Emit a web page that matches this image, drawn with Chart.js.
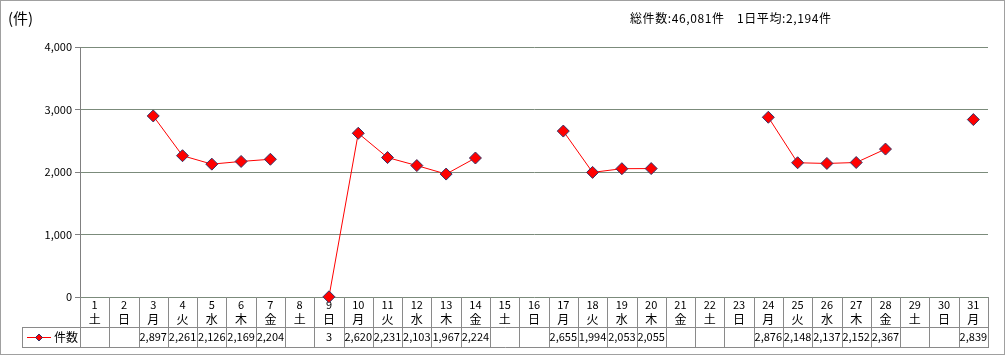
<!DOCTYPE html>
<html>
<head>
<meta charset="utf-8">
<script src="https://cdn.jsdelivr.net/npm/chart.js@4/dist/chart.umd.min.js"></script>
<style>
  html, body { margin: 0; padding: 0; background: #fff; }
</style>
</head>
<body>
<canvas id="chart" width="1005" height="355"></canvas>
<script>
// chart data
const days = ["1","2","3","4","5","6","7","8","9","10","11","12","13","14","15","16",
              "17","18","19","20","21","22","23","24","25","26","27","28","29","30","31"];
const weekdays = ["土","日","月","火","水","木","金","土","日","月","火","水","木","金","土","日",
                  "月","火","水","木","金","土","日","月","火","水","木","金","土","日","月"];
const counts = [null, null, 2897, 2261, 2126, 2169, 2204, null, 3, 2620, 2231, 2103, 1967, 2224, null, null,
                2655, 1994, 2053, 2055, null, null, null, 2876, 2148, 2137, 2152, 2367, null, null, 2839];
const seriesName = "件数";
const unitLabel = "(件)";
const totalText = "総件数:46,081件";
const avgText = "1日平均:2,194件";

const FONT = '"Noto Sans CJK JP", "Noto Sans", sans-serif';
const lineGray = "#8a8a8a";

function fmt(v) {
    return v.toLocaleString("en-US");
}

// draws the data table under the plot, using the x scale for the columns
const tablePlugin = {
    id: "table",
    beforeDatasetsDraw(chart) {
        const ctx = chart.ctx;
        const xs = chart.scales.x;
        const area = chart.chartArea;
        const colW = (area.right - area.left) / days.length;
        const top = area.bottom;
        const rowTop = top + 30;
        const rowBottom = top + 50;
        const legendLeft = 22;

        ctx.save();
        ctx.strokeStyle = lineGray;
        ctx.lineWidth = 1;
        ctx.beginPath();
        for (let i = 0; i <= days.length; i++) {
            const x = Math.round(area.left + i * colW) + 0.5;
            ctx.moveTo(x, top);
            ctx.lineTo(x, rowBottom);
        }
        ctx.moveTo(legendLeft + 0.5, rowTop);
        ctx.lineTo(legendLeft + 0.5, rowBottom);
        ctx.moveTo(legendLeft, rowTop + 0.5);
        ctx.lineTo(Math.round(area.right) + 1, rowTop + 0.5);
        ctx.moveTo(legendLeft, rowBottom + 0.5);
        ctx.lineTo(Math.round(area.right) + 1, rowBottom + 0.5);
        ctx.stroke();

        ctx.fillStyle = "#000";
        ctx.textAlign = "center";
        ctx.textBaseline = "middle";
        days.forEach((d, i) => {
            const x = xs.getPixelForValue(i);
            ctx.font = "11px " + FONT;
            ctx.fillText(d, x, top + 8);
            ctx.font = "12px " + FONT;
            ctx.fillText(weekdays[i], x, top + 22);
            if (counts[i] !== null) {
                ctx.font = "11px " + FONT;
                ctx.fillText(fmt(counts[i]), x, rowTop + 10);
            }
        });

        // legend key
        const ly = rowTop + 10.5;
        ctx.strokeStyle = "#ff0000";
        ctx.beginPath();
        ctx.moveTo(27, ly);
        ctx.lineTo(51, ly);
        ctx.stroke();
        ctx.fillStyle = "#ff0000";
        ctx.strokeStyle = "#333366";
        ctx.beginPath();
        ctx.moveTo(39, ly - 3.5);
        ctx.lineTo(42.5, ly);
        ctx.lineTo(39, ly + 3.5);
        ctx.lineTo(35.5, ly);
        ctx.closePath();
        ctx.fill();
        ctx.stroke();
        ctx.fillStyle = "#000";
        ctx.textAlign = "left";
        ctx.font = "12px " + FONT;
        ctx.fillText(seriesName, 54, rowTop + 10);
        ctx.restore();
    },
    afterDraw(chart) {
        const ctx = chart.ctx;
        ctx.save();
        ctx.fillStyle = "#000";
        ctx.textBaseline = "middle";
        ctx.textAlign = "left";
        ctx.font = "15px " + FONT;
        ctx.fillText(unitLabel, 8, 18);
        ctx.font = "12px " + FONT;
        ctx.letterSpacing = "0.6px";
        ctx.fillText(totalText, 630, 18);
        ctx.fillText(avgText, 737, 18);
        ctx.letterSpacing = "0px";
        ctx.strokeStyle = "#a0a0a0";
        ctx.lineWidth = 1;
        ctx.strokeRect(0.5, 0.5, chart.width - 1, chart.height - 1);
        ctx.restore();
    }
};

const ctx = document.getElementById("chart").getContext("2d");
new Chart(ctx, {
    type: "line",
    data: {
        labels: days,
        datasets: [{
            label: seriesName,
            data: counts,
            borderColor: "#ff0000",
            borderWidth: 1,
            backgroundColor: "#ff0000",
            pointStyle: "rectRot",
            pointRadius: 6,
            pointBorderColor: "#333366",
            pointBorderWidth: 1,
            pointBackgroundColor: "#ff0000",
            spanGaps: false,
            tension: 0,
            clip: false,
        }],
    },
    options: {
        responsive: false,
        animation: false,
        layout: {
            padding: { left: 0, right: 17, top: 47, bottom: 58 },
        },
        scales: {
            x: {
                type: "category",
                offset: true,
                display: false,
            },
            y: {
                min: 0,
                max: 4000,
                ticks: {
                    stepSize: 1000,
                    color: "#000",
                    padding: 3,
                    font: { size: 11, family: FONT },
                    callback: (v) => fmt(v),
                },
                grid: {
                    color: "#7b8b7b",
                    tickColor: "#808080",
                    tickLength: 5,
                },
                border: { color: "#808080" },
                afterFit(scale) {
                    scale.width = 80;
                },
            },
        },
        plugins: {
            legend: { display: false },
            tooltip: { enabled: false },
        },
    },
    plugins: [tablePlugin],
});
</script>
</body>
</html>
